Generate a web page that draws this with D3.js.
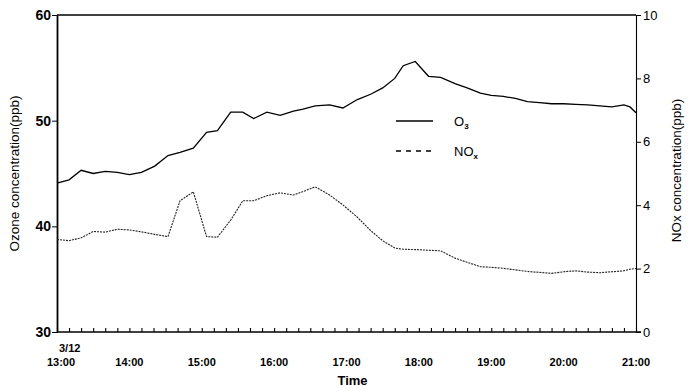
<!DOCTYPE html>
<html lang="en">
<head>
<meta charset="utf-8">
<script src="https://d3js.org/d3.v7.min.js"></script>
<style>
  body { margin: 0; background: #fff; }
  text { font-family: "Liberation Sans", Arial, sans-serif; fill: #000; }
</style>
</head>
<body>
<script>
    // readings taken off the plot, times of the day 3/12
    var times = ["13:00","13:10","13:20","13:30","13:40","13:50","14:00","14:10","14:21","14:32",
                 "14:42","14:53","15:04","15:13","15:24","15:34","15:43","15:54","16:05","16:16",
                 "16:24","16:34","16:46","16:57","17:09","17:20","17:30","17:40","17:47","17:57",
                 "18:08","18:18","18:30","18:40","18:51","19:00","19:10","19:20","19:30","19:40",
                 "19:50","20:00","20:10","20:20","20:30","20:40","20:50","20:55","21:00"];

    var o3 = [44.1, 44.4, 45.3, 45.0, 45.2, 45.1, 44.9, 45.1, 45.7, 46.7,
              47.0, 47.4, 48.9, 49.05, 50.8, 50.8, 50.2, 50.8, 50.5, 50.9,
              51.1, 51.4, 51.5, 51.2, 52.0, 52.5, 53.1, 54.0, 55.2, 55.6,
              54.2, 54.1, 53.5, 53.1, 52.6, 52.4, 52.3, 52.1, 51.8, 51.7,
              51.6, 51.6, 51.55, 51.5, 51.4, 51.3, 51.5, 51.3, 50.75];

    var nox = [2.92, 2.88, 2.97, 3.17, 3.15, 3.24, 3.22, 3.16, 3.08, 3.01,
               4.14, 4.42, 3.01, 2.99, 3.53, 4.14, 4.14, 4.30, 4.39, 4.32,
               4.43, 4.58, 4.32, 4.01, 3.62, 3.20, 2.88, 2.65, 2.61, 2.60,
               2.58, 2.56, 2.33, 2.20, 2.06, 2.04, 2.01, 1.96, 1.91, 1.88,
               1.85, 1.90, 1.93, 1.89, 1.87, 1.90, 1.93, 1.98, 2.00];

    var hourLabels = ["13:00","14:00","15:00","16:00","17:00","18:00","19:00","20:00","21:00"];
    var o3Ticks = [30, 40, 50, 60];
    var noxTicks = [0, 2, 4, 6, 8, 10];

    var width = 690, height = 388;
    var margin = {top: 15, right: 54, bottom: 56, left: 57};
    var parse = d3.timeParse("%H:%M");

    var svg = d3.select("body").append("svg")
                .attr("width", width)
                .attr("height", height);

    var x = d3.scaleTime()
              .domain([parse("13:00"), parse("21:00")])
              .range([margin.left, width - margin.right]);
    var yL = d3.scaleLinear().domain([30, 60]).range([height - margin.bottom, margin.top]);
    var yR = d3.scaleLinear().domain([0, 10]).range([height - margin.bottom, margin.top]);

    var x0 = margin.left, x1 = width - margin.right;
    var yb = height - margin.bottom, yt = margin.top;

    // frame top
    svg.append("line")
       .attr("x1", x0).attr("x2", x1).attr("y1", yt).attr("y2", yt)
       .attr("stroke", "#000").attr("stroke-width", 1.4);

    // bottom axis: minor ticks every 10 min pointing in
    var xAxis = svg.append("g")
       .attr("transform", "translate(0," + yb + ")")
       .call(d3.axisBottom(x)
              .ticks(d3.timeMinute.every(10))
              .tickSizeInner(-4).tickSizeOuter(0)
              .tickFormat(""));
    xAxis.select(".domain").attr("stroke-width", 1.6).attr("d", "M" + x0 + ",0H" + (x1 + 5));
    xAxis.selectAll(".tick line").attr("stroke-width", 1.1);

    // hour labels
    svg.append("g").selectAll("text")
       .data(hourLabels)
       .enter().append("text")
       .attr("x", function(d) { return x(parse(d)) + (d == "13:00" ? 4 : 0); })
       .attr("y", yb + 34)
       .attr("text-anchor", "middle")
       .attr("font-size", 11)
       .attr("font-weight", "bold")
       .text(function(d) { return d; });

    svg.append("text")
       .attr("x", x0 + 2).attr("y", yb + 20)
       .attr("font-size", 11).attr("font-weight", "bold")
       .text("3/12");

    svg.append("text")
       .attr("x", (x0 + x1) / 2 + 6).attr("y", yb + 53)
       .attr("text-anchor", "middle")
       .attr("font-size", 13).attr("font-weight", "bold")
       .text("Time");

    // left axis
    var left = svg.append("g")
       .attr("transform", "translate(" + x0 + ",0)")
       .call(d3.axisLeft(yL).tickValues(o3Ticks).tickSizeInner(5).tickSizeOuter(0).tickPadding(1));
    left.select(".domain").attr("stroke-width", 1.8);
    left.selectAll(".tick text").attr("font-size", 14).attr("font-weight", "bold")
        .attr("font-family", "Liberation Sans, Arial, sans-serif");

    // right axis
    var right = svg.append("g")
       .attr("transform", "translate(" + x1 + ",0)")
       .call(d3.axisRight(yR).tickValues(noxTicks).tickSizeInner(5).tickSizeOuter(0).tickPadding(2));
    right.select(".domain").attr("stroke-width", 1.1);
    right.selectAll(".tick text").attr("font-size", 13)
         .attr("font-family", "Liberation Sans, Arial, sans-serif");

    svg.append("text")
       .attr("transform", "translate(19," + ((yt + yb) / 2) + ") rotate(-90)")
       .attr("text-anchor", "middle")
       .attr("font-size", 13.5)
       .text("Ozone concentration(ppb)");

    svg.append("text")
       .attr("transform", "translate(681," + ((yt + yb) / 2 - 3) + ") rotate(-90)")
       .attr("text-anchor", "middle")
       .attr("font-size", 13.5)
       .text("NOx concentration(ppb)");

    // series
    var lineO3 = d3.line()
        .x(function(d, i) { return x(parse(times[i])); })
        .y(function(d) { return yL(d); });
    var lineNox = d3.line()
        .x(function(d, i) { return x(parse(times[i])); })
        .y(function(d) { return yR(d); });

    svg.append("path").datum(o3)
       .attr("d", lineO3)
       .attr("fill", "none").attr("stroke", "#000").attr("stroke-width", 1.3);

    svg.append("path").datum(nox)
       .attr("d", lineNox)
       .attr("fill", "none").attr("stroke", "#222").attr("stroke-width", 1.1)
       .attr("stroke-dasharray", "2,1");

    // legend
    var lg = svg.append("g");
    lg.append("line").attr("x1", 396).attr("x2", 433).attr("y1", 121).attr("y2", 121)
      .attr("stroke", "#000").attr("stroke-width", 1.4);
    lg.append("line").attr("x1", 396).attr("x2", 433).attr("y1", 151).attr("y2", 151)
      .attr("stroke", "#000").attr("stroke-width", 1.4).attr("stroke-dasharray", "5,5");
    var t1 = lg.append("text").attr("x", 454).attr("y", 126).attr("font-size", 13);
    t1.append("tspan").text("O");
    t1.append("tspan").attr("dy", 3).attr("font-size", 8).attr("font-weight", "bold").text("3");
    var t2 = lg.append("text").attr("x", 454).attr("y", 156).attr("font-size", 13);
    t2.append("tspan").text("NO");
    t2.append("tspan").attr("dy", 3).attr("font-size", 8).attr("font-weight", "bold").text("x");
</script>
</body>
</html>
